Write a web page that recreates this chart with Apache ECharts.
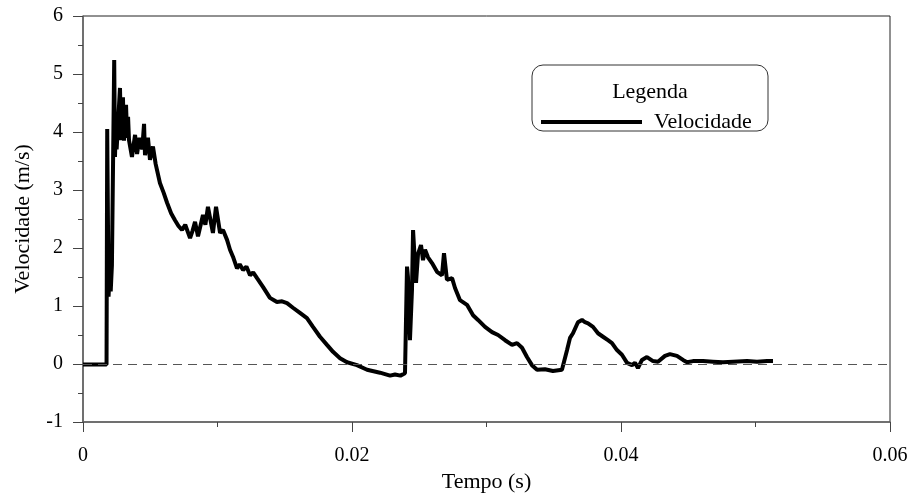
<!DOCTYPE html>
<html>
<head>
<meta charset="utf-8">
<script src="https://cdn.jsdelivr.net/npm/echarts@6/dist/echarts.min.js"></script>
<style>html,body{margin:0;padding:0;background:#fff}#c{width:911px;height:495px}</style>
</head>
<body>
<div id="c"></div>
<script>
// Tempo (s)
const time = [0,0.0010,0.00175,0.00180,0.00190,0.00198,0.00206,0.00215,0.00232,0.00238,0.00245,0.00250,0.00275,0.00283,0.00297,0.00305,0.00320,0.00328,0.00335,0.00342,0.00364,0.00387,0.00402,0.00420,0.00440,0.00454,0.00461,0.00483,0.00498,0.00520,0.00540,0.00572,0.00600,0.00625,0.00655,0.00684,0.00710,0.00736,0.00760,0.00796,0.00815,0.00833,0.00855,0.00892,0.00910,0.00929,0.00966,0.00989,0.01019,0.01041,0.01071,0.01093,0.01115,0.01145,0.01165,0.01190,0.01215,0.01242,0.01265,0.01294,0.01338,0.01390,0.01420,0.01442,0.01480,0.01517,0.01561,0.01613,0.01665,0.01710,0.01762,0.01814,0.01859,0.01911,0.01963,0.02037,0.02112,0.02208,0.02283,0.02320,0.02360,0.02394,0.02409,0.02416,0.02431,0.02446,0.02454,0.02476,0.02491,0.02513,0.02528,0.02543,0.02565,0.02595,0.02632,0.02669,0.02684,0.02706,0.02744,0.02766,0.02803,0.02855,0.02900,0.02937,0.02989,0.03041,0.03086,0.03138,0.03190,0.03227,0.03264,0.03301,0.03338,0.03376,0.03435,0.03494,0.03561,0.03599,0.03621,0.03643,0.03680,0.03710,0.03732,0.03755,0.03792,0.03829,0.03866,0.03903,0.03933,0.03970,0.04007,0.04045,0.04082,0.04104,0.04126,0.04156,0.04193,0.04238,0.04275,0.04327,0.04364,0.04416,0.04461,0.04491,0.04535,0.04610,0.04684,0.04758,0.04833,0.04937,0.05011,0.05086,0.05130];
// Velocidade (m/s)
const velocity = [-0.01,-0.01,-0.01,4.05,1.16,1.55,1.25,1.7,5.24,3.57,4.26,3.7,4.76,3.86,4.6,3.85,4.47,3.9,4.26,3.86,3.57,3.95,3.62,3.9,3.7,4.14,3.6,3.9,3.52,3.75,3.45,3.12,2.95,2.78,2.6,2.48,2.38,2.31,2.4,2.17,2.3,2.45,2.2,2.57,2.4,2.71,2.26,2.71,2.26,2.31,2.14,1.97,1.85,1.65,1.72,1.62,1.68,1.53,1.58,1.48,1.33,1.14,1.1,1.07,1.08,1.05,0.97,0.88,0.79,0.64,0.47,0.33,0.21,0.10,0.03,-0.02,-0.10,-0.15,-0.20,-0.18,-0.2,-0.16,1.68,1.5,0.41,1.28,2.31,1.4,1.9,2.05,1.79,1.97,1.84,1.74,1.59,1.53,1.91,1.45,1.48,1.31,1.10,1.02,0.84,0.76,0.64,0.55,0.50,0.41,0.33,0.36,0.28,0.12,-0.02,-0.10,-0.09,-0.12,-0.10,0.24,0.45,0.53,0.72,0.76,0.72,0.70,0.64,0.53,0.47,0.41,0.36,0.24,0.16,0.02,-0.02,0.02,-0.07,0.07,0.12,0.05,0.04,0.14,0.17,0.14,0.07,0.03,0.05,0.05,0.04,0.03,0.04,0.05,0.04,0.05,0.05];
const seriesName = 'Velocidade';
const legendTitle = 'Legenda';
const xTitle = 'Tempo (s)';
const yTitle = 'Velocidade (m/s)';

const FONT = 'Liberation Serif';
const pts = time.map((t, i) => [t, velocity[i]]);
const chart = echarts.init(document.getElementById('c'), null, {renderer: 'canvas'});
chart.setOption({
  animation: false,
  backgroundColor: '#fff',
  grid: {left: 83, right: 21, top: 16, bottom: 73, show: true, borderColor: '#222', borderWidth: 1,
    backgroundColor: 'transparent', containLabel: false, outerBoundsMode: 'none'},
  xAxis: {
    type: 'value', min: 0, max: 0.06, interval: 0.02,
    name: xTitle, nameLocation: 'middle', nameGap: 48,
    nameTextStyle: {fontFamily: FONT, fontSize: 22, color: '#000'},
    axisLine: {show: true, onZero: false, lineStyle: {color: '#666', width: 1.5}},
    axisTick: {show: true, inside: false, length: 10, lineStyle: {color: '#444'}},
    minorTick: {show: true, splitNumber: 2, length: 5, lineStyle: {color: '#444'}},
    splitLine: {show: false},
    axisLabel: {fontFamily: FONT, fontSize: 20, color: '#000', margin: 24,
      formatter: v => String(parseFloat(v.toFixed(2)))}
  },
  yAxis: {
    type: 'value', min: -1, max: 6, interval: 1,
    name: yTitle, nameLocation: 'middle', nameGap: 49,
    nameTextStyle: {fontFamily: FONT, fontSize: 22, color: '#000'},
    axisLine: {show: true, onZero: false, lineStyle: {color: '#666', width: 1.5}},
    axisTick: {show: true, inside: false, length: 10, lineStyle: {color: '#444'}},
    minorTick: {show: true, splitNumber: 2, length: 5, lineStyle: {color: '#444'}},
    splitLine: {show: false},
    axisLabel: {fontFamily: FONT, fontSize: 20, color: '#000', margin: 20}
  },
  legend: {
    show: true, left: 541, top: 111, padding: 0, itemWidth: 101, itemHeight: 4,
    icon: 'rect',
    textStyle: {fontFamily: FONT, fontSize: 22, color: '#000', padding: [0, 0, 0, 7]},
    data: [seriesName]
  },
  graphic: [
    {type: 'rect', shape: {x: 532, y: 65, width: 236, height: 66, r: 11},
     style: {fill: null, stroke: '#333', lineWidth: 1}, silent: true},
    {type: 'text', x: 650, y: 92,
     style: {text: legendTitle, font: '22px "Liberation Serif"', fill: '#000', textAlign: 'center', textVerticalAlign: 'middle'}}
  ],
  series: [{
    name: seriesName, type: 'line', data: pts, showSymbol: false, symbol: 'none',
    lineStyle: {color: '#000', width: 4}, itemStyle: {color: '#000'},
    markLine: {silent: true, symbol: 'none', label: {show: false},
      lineStyle: {type: [9, 6], color: '#555', width: 1},
      data: [{yAxis: 0}]}
  }]
});
</script>
</body>
</html>
